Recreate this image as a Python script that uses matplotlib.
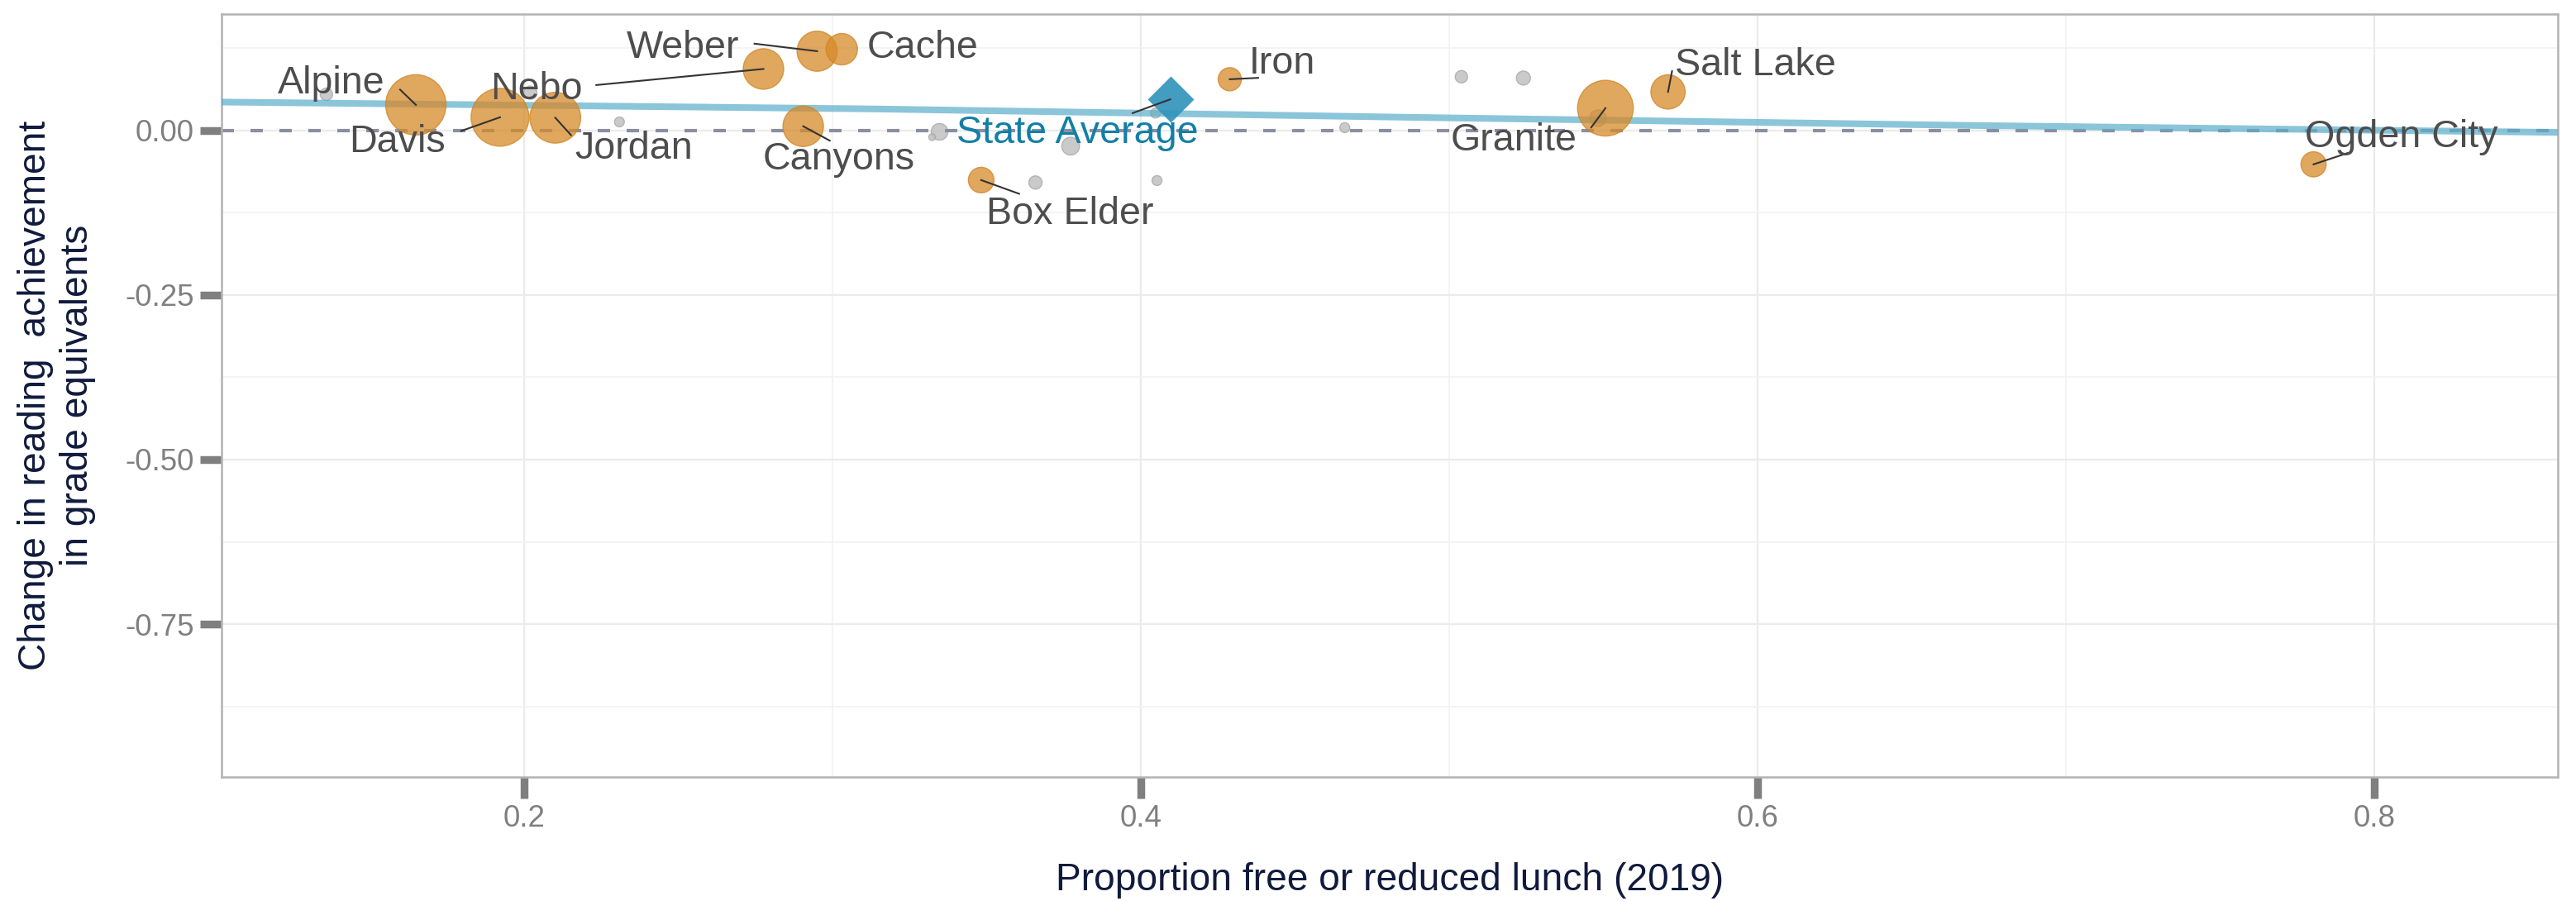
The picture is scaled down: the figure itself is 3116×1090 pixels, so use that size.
import matplotlib
matplotlib.use("Agg")
import matplotlib.pyplot as plt
import numpy as np
from matplotlib.ticker import FixedLocator

plt.rcParams['font.family'] = ['Liberation Sans', 'DejaVu Sans']

# ---------------- data ----------------
districts = ["Alpine", "Davis", "Jordan", "Nebo", "Weber", "Cache", "Canyons",
             "Box Elder", "Iron", "Salt Lake", "Granite", "Ogden City"]
frl = [0.165, 0.1923, 0.2102, 0.2777, 0.2951, 0.3031, 0.2906,
       0.3483, 0.4289, 0.5710, 0.5507, 0.7803]
change = [0.0385, 0.0197, 0.019, 0.093, 0.120, 0.123, 0.006,
          -0.0757, 0.0774, 0.0582, 0.0335, -0.0518]
enroll = [83.3, 76.6, 59.0, 37.5, 36.8, 22.6, 37.5,
          15.0, 12.3, 26.9, 71.0, 14.5]

other_frl = [0.1360, 0.2021, 0.2310, 0.3348, 0.3324, 0.3659, 0.3773,
             0.4053, 0.4048, 0.4662, 0.5040, 0.5241, 0.5483]
other_change = [0.0545, 0.057, 0.0126, -0.0024, -0.0104, -0.0794, -0.0242,
                -0.0764, 0.026, 0.0039, 0.0812, 0.0792, 0.0184]
other_enroll = [3.5, 4.0, 2.2, 6.3, 1.1, 4.0, 7.2,
                2.25, 2.25, 2.25, 3.5, 4.5, 6.25]

state_label = "State Average"
state_frl = 0.4096
state_change = 0.0469

smooth_x = [0.102, 0.314, 0.486, 0.670, 0.8595]
smooth_y = [0.0428, 0.0323, 0.0197, 0.0072, -0.0033]

x_ticks = [0.2, 0.4, 0.6, 0.8]
y_ticks = [-0.75, -0.50, -0.25, 0.00]
y_tick_labels = ["-0.75", "-0.50", "-0.25", "0.00"]

x_title = "Proportion free or reduced lunch (2019)"
y_title = "Change in reading  achievement\nin grade equivalents"

# ---------------- layout (label placement, repel-style) ----------------
label_pos = {
    "Alpine": (0.1375, 0.0553), "Davis": (0.159, -0.0338), "Jordan": (0.2357, -0.043),
    "Nebo": (0.2040, 0.0469), "Weber": (0.2517, 0.1097), "Cache": (0.3292, 0.1097),
    "Canyons": (0.3021, -0.0597), "Box Elder": (0.3771, -0.1421), "Iron": (0.4458, 0.0854),
    "Salt Lake": (0.5994, 0.0837), "Granite": (0.5209, -0.0305), "Ogden City": (0.8088, -0.0262),
    "State Average": (0.3794, -0.020),
}
seg_start = {
    "Alpine": (0.1599, 0.0616), "Davis": (0.1797, -0.0011), "Jordan": (0.2153, -0.0074),
    "Nebo": (0.2235, 0.0686), "Weber": (0.2748, 0.1314), "Canyons": (0.2992, -0.0158),
    "Box Elder": (0.3606, -0.0965), "Iron": (0.4381, 0.0795), "Salt Lake": (0.5723, 0.0896),
    "Granite": (0.5461, 0.0043), "Ogden City": (0.7914, -0.0346),
    "State Average": (0.3974, 0.026),
}

W, H, DPI = 3116, 1090, 200
fig = plt.figure(figsize=(W / DPI, H / DPI), dpi=DPI)
L, R, T, B = 268, 3094, 17.3, 940
ax = fig.add_axes([L / W, 1 - B / H, (R - L) / W, (B - T) / H])

size_scale = 8.3
orange = "#D68A2A"
gray_pt = "#bdbdbd"
blue_line = "#5AADCB"
blue_diamond = "#2E93BA"
label_col = "#4d4d4d"
state_col = "#127FA6"
title_col = "#101a3c"
tick_col = "#7f7f7f"

ax.set_xlim(0.102, 0.8595)
ax.set_ylim(-0.982, 0.176)

# grid
ax.xaxis.set_major_locator(FixedLocator(x_ticks))
ax.xaxis.set_minor_locator(FixedLocator([0.1, 0.3, 0.5, 0.7]))
ax.yaxis.set_major_locator(FixedLocator(y_ticks))
ax.yaxis.set_minor_locator(FixedLocator([-0.875, -0.625, -0.375, -0.125, 0.125]))
ax.set_yticklabels(y_tick_labels)
ax.set_xticklabels([f"{v:g}" for v in x_ticks])
ax.grid(which="major", color="#ebebeb", linewidth=0.8, zorder=0)
ax.grid(which="minor", color="#f2f2f2", linewidth=0.6, zorder=0)
ax.set_axisbelow(True)

for s in ax.spines.values():
    s.set_color("#b3b3b3")
    s.set_linewidth(0.9)

ax.tick_params(which="major", length=9.4, width=3.4, color=tick_col,
               labelcolor=tick_col, labelsize=13.2, pad=2.5)
ax.tick_params(which="minor", length=0)

# other districts
ax.scatter(other_frl, other_change, s=np.array(other_enroll) * size_scale,
           color=gray_pt, edgecolors="#a9a9a9", alpha=0.8, linewidths=0.5, zorder=2)

# reference line at zero
ax.axhline(0, color="#8a8fa0", linewidth=1.5, linestyle=(0, (3.6, 4.8)), zorder=2.5)

# smooth trend
ax.plot(smooth_x, smooth_y, color=blue_line, alpha=0.7, linewidth=2.9,
        solid_capstyle="butt", zorder=3)

# labeled districts
ax.scatter(frl, change, s=np.array(enroll) * size_scale, color=orange,
           edgecolors="#cf8422", alpha=0.75, linewidths=0.5, zorder=4)

# state average diamond
ax.scatter([state_frl], [state_change], s=203, marker="D", color=blue_diamond,
           alpha=0.9, linewidths=0, zorder=5)

# segments and labels
pts = dict(zip(districts, zip(frl, change)))
pts[state_label] = (state_frl, state_change)
for name, (px, py) in pts.items():
    if name in seg_start:
        sx, sy = seg_start[name]
        ax.plot([sx, px], [sy, py], color="#333333", linewidth=0.75, zorder=6)
    lx, ly = label_pos[name]
    ax.text(lx, ly, name, ha="center", va="baseline", fontsize=16.8,
            color=state_col if name == state_label else label_col, zorder=7)

ax.set_xlabel(x_title, fontsize=16.6, color=title_col, va="baseline")
ax.xaxis.set_label_coords(0.5, (B - 1077) / (B - T))
ax.set_ylabel(y_title, fontsize=16.6, color=title_col)
ax.yaxis.set_label_coords((116 - L) / (R - L), 0.5)

fig.savefig("out.png", dpi=DPI)
